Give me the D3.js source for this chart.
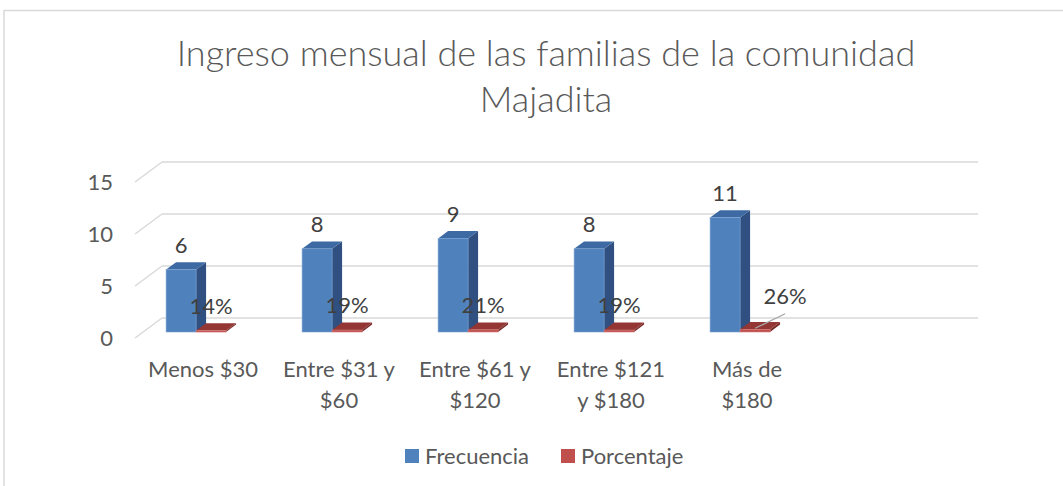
<!DOCTYPE html>
<html>
<head>
<meta charset="utf-8">
<script src="https://cdn.jsdelivr.net/npm/d3@7"></script>
<style>
  body { margin: 0; background: #fff; }
  text { font-family: Lato, "Open Sans", sans-serif; }
</style>
</head>
<body>
<div id="chart"></div>
<script>
// data
const titleLines = ["Ingreso mensual de las familias de la comunidad", "Majadita"];
const categoryLines = [
    ["Menos $30"],
    ["Entre $31 y", "$60"],
    ["Entre $61 y", "$120"],
    ["Entre $121", "y $180"],
    ["Más de", "$180"]
];
const seriesNames = ["Frecuencia", "Porcentaje"];
const frecuencia = [6, 8, 9, 8, 11];
const porcentaje = [0.14, 0.19, 0.21, 0.19, 0.26];
const porcentajeLabels = ["14%", "19%", "21%", "19%", "26%"];
const yTicks = [0, 5, 10, 15];
const nSlots = 6; // excel left an empty slot on the right

const width = 1063, height = 486;
const svg = d3.select("#chart")
    .append("svg")
    .attr("width", width)
    .attr("height", height)
;

// chart frame (only top and left edges are in the shot)
svg.append("rect")
    .attr("x", 4).attr("y", 10.5)
    .attr("width", width + 10).attr("height", height + 10)
    .style("fill", "none")
    .style("stroke", "#d9d9d9")
    .style("stroke-width", 1.5)
;

const colors = {
    Frecuencia: { front: "#4f81bd", top: "#3d6aa2", side: "#2f5080", edge: "#7aa0d2" },
    Porcentaje: { front: "#c0504d", top: "#933634", side: "#7a2c2a", edge: "#d47a77" }
};

// 3d projection: depth offset of the back wall
const depthX = 27, depthY = -20;
const zFront = 0.3, zBack = 0.67;

const x = d3.scaleBand()
    .domain(d3.range(nSlots))
    .range([135, 951])
;
const xs = d3.scaleBand()
    .domain(seriesNames)
    .range([23, 83])
;
const y = d3.scaleLinear()
    .domain([0, 15])
    .range([338, 182])
;

function proj(px, v, z) {
    return [px + z * depthX, y(v) + z * depthY];
}

// title
svg.append("g")
    .selectAll("text")
    .data(titleLines)
    .join("text")
    .attr("x", 546)
    .attr("y", (d, i) => 66 + i * 46)
    .attr("text-anchor", "middle")
    .style("font-size", "36px")
    .style("font-weight", 300)
    .style("fill", "#595959")
    .text(d => d)
;

// gridlines: back wall + left side wall
const grid = svg.append("g");
grid.selectAll("line.back")
    .data(yTicks)
    .join("line")
    .attr("class", "back")
    .attr("x1", x.range()[0] + depthX)
    .attr("x2", x.range()[1] + depthX)
    .attr("y1", d => y(d) + depthY)
    .attr("y2", d => y(d) + depthY)
    .style("stroke", "#d9d9d9")
    .style("stroke-width", 1.5)
;
grid.selectAll("line.side")
    .data(yTicks)
    .join("line")
    .attr("class", "side")
    .attr("x1", x.range()[0])
    .attr("x2", x.range()[0] + depthX)
    .attr("y1", d => y(d))
    .attr("y2", d => y(d) + depthY)
    .style("stroke", "#d9d9d9")
    .style("stroke-width", 1.5)
;

// y axis labels
svg.append("g")
    .selectAll("text")
    .data(yTicks)
    .join("text")
    .attr("x", 113)
    .attr("y", d => y(d))
    .attr("dy", "0.35em")
    .attr("text-anchor", "end")
    .style("font-size", "22px")
    .style("fill", "#595959")
    .text(d => d)
;

// bars
const bars = [];
frecuencia.forEach((v, i) => {
    bars.push({ i: i, s: "Frecuencia", v: v, label: String(v) });
    bars.push({ i: i, s: "Porcentaje", v: porcentaje[i], label: porcentajeLabels[i] });
});

const pts = a => a.map(p => p.join(",")).join(" ");

const barG = svg.append("g")
    .selectAll("g")
    .data(bars)
    .join("g")
;

barG.each(function (d) {
    const g = d3.select(this);
    const x0 = x(d.i) + xs(d.s), x1 = x0 + xs.bandwidth();
    const c = colors[d.s];
    g.append("polygon")
        .attr("points", pts([proj(x1, 0, zFront), proj(x1, d.v, zFront), proj(x1, d.v, zBack), proj(x1, 0, zBack)]))
        .style("fill", c.side)
    ;
    g.append("polygon")
        .attr("points", pts([proj(x0, d.v, zFront), proj(x1, d.v, zFront), proj(x1, d.v, zBack), proj(x0, d.v, zBack)]))
        .style("fill", c.top)
    ;
    const [fx, fy] = proj(x0, d.v, zFront);
    const fb = proj(x0, 0, zFront)[1];
    g.append("rect")
        .attr("x", fx)
        .attr("y", fy)
        .attr("width", xs.bandwidth())
        .attr("height", Math.max(fb - fy, 1.5))
        .style("fill", c.front)
        .style("stroke", c.edge)
        .style("stroke-width", 0.6)
    ;
});

// data labels, the last percentage one got pushed aside by excel
const labelNudge = { "4-Porcentaje": [30, -8] };
const labelG = svg.append("g");
bars.forEach(d => {
    const cx = x(d.i) + xs(d.s) + xs.bandwidth() / 2;
    const [px, py] = proj(cx, d.v, zFront);
    const n = labelNudge[d.i + "-" + d.s] || [0, 0];
    const lx = px + n[0], ly = py - 24.5 + n[1];
    if (n[0] !== 0) {
        labelG.append("line")
            .attr("x1", px).attr("y1", py - 1)
            .attr("x2", lx).attr("y2", ly + 17)
            .style("stroke", "#a6a6a6")
            .style("stroke-width", 1.2)
        ;
    }
    labelG.append("text")
        .attr("x", lx)
        .attr("y", ly)
        .attr("dy", "0.35em")
        .attr("text-anchor", "middle")
        .style("font-size", "22px")
        .style("fill", "#404040")
        .text(d.label)
    ;
});

// category labels
svg.append("g")
    .selectAll("text")
    .data(categoryLines)
    .join("text")
    .attr("x", (d, i) => x(i) + x.bandwidth() / 2)
    .attr("y", 369)
    .attr("text-anchor", "middle")
    .style("font-size", "22px")
    .style("fill", "#595959")
    .each(function (lines) {
        d3.select(this).selectAll("tspan")
            .data(lines)
            .join("tspan")
            .attr("x", d3.select(this).attr("x"))
            .attr("dy", (d, k) => k === 0 ? "0.35em" : "1.4em")
            .text(d => d)
        ;
    })
;

// legend
const legend = svg.append("g")
    .selectAll("g")
    .data(seriesNames)
    .join("g")
    .attr("transform", (d, i) => `translate(${[405, 561][i]},449)`)
;
legend.append("rect")
    .attr("width", 14)
    .attr("height", 14)
    .style("fill", d => colors[d].front)
;
legend.append("text")
    .attr("x", 20)
    .attr("y", 7)
    .attr("dy", "0.35em")
    .style("font-size", "22px")
    .style("fill", "#595959")
    .text(d => d)
;
</script>
</body>
</html>
